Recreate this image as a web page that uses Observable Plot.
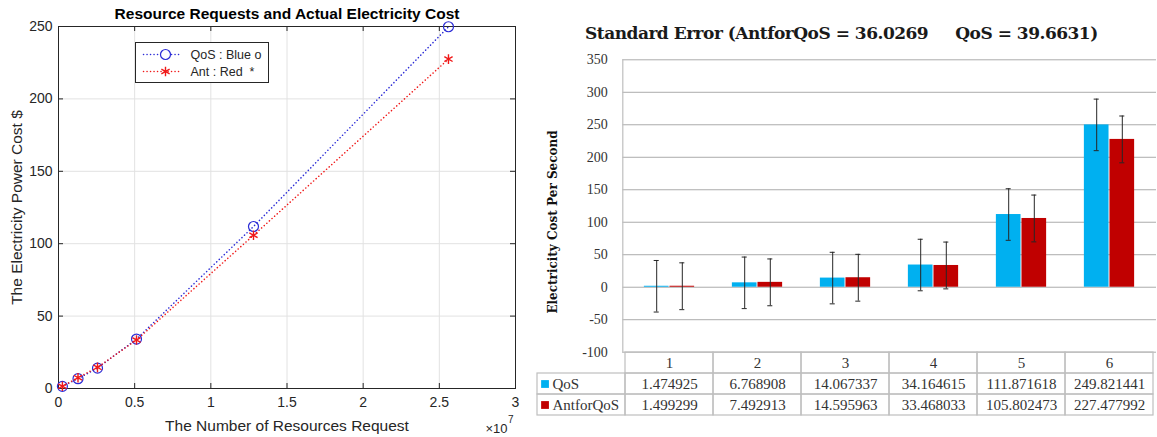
<!DOCTYPE html>
<html><head><meta charset="utf-8">
<script src="https://cdn.jsdelivr.net/npm/d3@7"></script>
<script src="https://cdn.jsdelivr.net/npm/@observablehq/plot@0.6"></script>
<style>
body{margin:0;background:#fff;width:1157px;height:437px;overflow:hidden;position:relative}
.abs{position:absolute}
#title2{left:585px;top:25px;font:bold 17px "DejaVu Serif";letter-spacing:-0.5px;white-space:pre;color:#1a1a1a;line-height:17px}
</style></head><body>
<div id="left" class="abs" style="left:0;top:0"></div>
<div id="title2" class="abs">Standard Error (AntforQoS = 36.0269     QoS = 39.6631)</div>
<div id="chart" class="abs" style="left:530px;top:0"></div>
<div id="table" class="abs" style="left:530px;top:340px"></div>
<script>
// ---- data ----
const categories = [1, 2, 3, 4, 5, 6];
const resources = [256000, 1280000, 2560000, 5120000, 12800000, 25600000];
const qos = [1.474925, 6.768908, 14.067337, 34.164615, 111.871618, 249.821441];
const ant = [1.499299, 7.492913, 14.595963, 33.468033, 105.802473, 227.477992];
const seQoS = 39.6631;
const seAnt = 36.0269;
const seriesNames = ["QoS", "AntforQoS"];
const legendLabels = ["QoS : Blue o", "Ant : Red  *"];
const xTicksLeft = [0, 5e6, 1e7, 1.5e7, 2e7, 2.5e7, 3e7];
const yTicksLeft = [0, 50, 100, 150, 200, 250];
const yTicksRight = [-100, -50, 0, 50, 100, 150, 200, 250, 300, 350];

// ---- left MATLAB-style plot ----
const BLUE_L = "#2b2bd6", RED_L = "#f01818", AX = "#262626";
const fw = 520 - 58 - 5, fh = 437 - 26 - 49;
const leftData = resources.map((x, i) => ({x, qos: qos[i], ant: ant[i]}));
const dash = "0.1,3.4";
const dotLine = {strokeWidth: 1.5, strokeDasharray: dash, strokeLinecap: "round"};
const left = Plot.plot({
  width: 520, height: 437, marginLeft: 58, marginRight: 5, marginTop: 26, marginBottom: 49,
  style: {fontFamily: "'Liberation Sans', Arial, sans-serif", fontSize: "14px", color: AX, background: "transparent"},
  x: {domain: [0, 3e7], axis: null},
  y: {domain: [0, 250], axis: null},
  marks: [
    Plot.gridX(xTicksLeft, {stroke: "#e2e2e2", strokeOpacity: 1}),
    Plot.gridY(yTicksLeft, {stroke: "#e2e2e2", strokeOpacity: 1}),
    Plot.tickX(xTicksLeft, {x: d => d, insetTop: fh - 5, stroke: AX}),
    Plot.tickX(xTicksLeft, {x: d => d, insetBottom: fh - 5, stroke: AX}),
    Plot.tickY(yTicksLeft, {y: d => d, insetRight: fw - 5, stroke: AX}),
    Plot.tickY(yTicksLeft, {y: d => d, insetLeft: fw - 5, stroke: AX}),
    Plot.frame({stroke: AX}),
    Plot.axisX(xTicksLeft, {tickSize: 0, tickPadding: 9, label: null, tickFormat: d => String(d / 1e7), fill: AX}),
    Plot.axisY(yTicksLeft, {tickSize: 0, tickPadding: 6, label: null, tickFormat: d => String(d), fill: AX}),
    Plot.line(leftData, {x: "x", y: "qos", stroke: BLUE_L, ...dotLine}),
    Plot.line(leftData, {x: "x", y: "ant", stroke: RED_L, ...dotLine}),
    Plot.dot(leftData, {x: "x", y: "qos", r: 5, stroke: BLUE_L, strokeWidth: 1.2}),
    Plot.dot(leftData, {x: "x", y: "ant", r: 4.5, symbol: "asterisk", stroke: RED_L, strokeWidth: 1.4}),
    // legend
    Plot.frame({insetLeft: 77, insetTop: 16, insetRight: 247, insetBottom: 306, fill: "white", stroke: AX}),
    Plot.frame({anchor: "top", insetLeft: 85, insetRight: 335, insetTop: 28, stroke: BLUE_L, ...dotLine}),
    Plot.frame({anchor: "top", insetLeft: 85, insetRight: 335, insetTop: 45, stroke: RED_L, ...dotLine}),
    Plot.dot([0], {frameAnchor: "top-left", dx: 107, dy: 28, r: 5, fill: "white", stroke: BLUE_L, strokeWidth: 1.2}),
    Plot.dot([0], {frameAnchor: "top-left", dx: 107, dy: 45, r: 4.5, symbol: "asterisk", fill: "white", stroke: RED_L, strokeWidth: 1.4}),
    Plot.text([legendLabels[0]], {frameAnchor: "top-left", textAnchor: "start", lineAnchor: "middle", dx: 132, dy: 28, fontSize: 12.5, fill: AX}),
    Plot.text([legendLabels[1]], {frameAnchor: "top-left", textAnchor: "start", lineAnchor: "middle", dx: 132, dy: 45, fontSize: 12.5, fill: AX}),
    // labels
    Plot.text(["Resource Requests and Actual Electricity Cost"], {frameAnchor: "top", lineAnchor: "middle", dy: -12.5, fontWeight: "bold", fontSize: 15.5, fill: "#000"}),
    Plot.text(["The Number of Resources Request"], {frameAnchor: "bottom", lineAnchor: "middle", dy: 38, fontSize: 15.5, fill: AX}),
    Plot.text(["The Electricity Power Cost $"], {frameAnchor: "left", textAnchor: "middle", lineAnchor: "middle", dx: -41, rotate: -90, fontSize: 15.5, fill: AX}),
    Plot.text(["×10"], {frameAnchor: "bottom-right", textAnchor: "end", lineAnchor: "middle", dx: -8, dy: 40, fontSize: 13, fill: AX}),
    Plot.text(["7"], {frameAnchor: "bottom-right", textAnchor: "start", lineAnchor: "middle", dx: -7.5, dy: 31, fontSize: 10, fill: AX})
  ]
});
document.getElementById("left").append(left);

// ---- right Excel-style bar chart ----
const BLUE = "#00b0f0", RED = "#c00000", GRID = "#ababab", BORDER = "#bfbfbf";
const chartData = categories.map((c, i) => ({c, qos: qos[i], ant: ant[i]}));
const W = (627 - 92.3 - 1) / 6;   // column band width
const BW = 25.6;                    // bar width
const capIn = W / 2 - 3;
const chart = Plot.plot({
  width: 627, height: 370, marginLeft: 92.3, marginRight: 1, marginTop: 59.3, marginBottom: 18.3,
  style: {fontFamily: "'Liberation Serif', serif", fontSize: "14px", color: "#333", background: "transparent"},
  x: {type: "band", domain: categories, padding: 0, axis: null},
  y: {domain: [-100, 350], axis: null},
  marks: [
    Plot.gridY(yTicksRight, {stroke: GRID, strokeOpacity: 1}),
    Plot.axisY(yTicksRight, {tickSize: 0, tickPadding: 15, label: null, tickFormat: d => String(d), fill: "#333"}),
    Plot.barY(chartData, {x: "c", y: "qos", fill: BLUE, insetLeft: W / 2 - BW, insetRight: W / 2}),
    Plot.barY(chartData, {x: "c", y: "ant", fill: RED, insetLeft: W / 2, insetRight: W / 2 - BW}),
    Plot.ruleX(chartData, {x: "c", y1: d => d.qos - seQoS, y2: d => d.qos + seQoS, dx: -BW / 2, stroke: "#262626"}),
    Plot.ruleX(chartData, {x: "c", y1: d => d.ant - seAnt, y2: d => d.ant + seAnt, dx: BW / 2, stroke: "#262626"}),
    Plot.tickY(chartData, {x: "c", y: d => d.qos + seQoS, dx: -BW / 2, insetLeft: capIn, insetRight: capIn, stroke: "#262626"}),
    Plot.tickY(chartData, {x: "c", y: d => d.qos - seQoS, dx: -BW / 2, insetLeft: capIn, insetRight: capIn, stroke: "#262626"}),
    Plot.tickY(chartData, {x: "c", y: d => d.ant + seAnt, dx: BW / 2, insetLeft: capIn, insetRight: capIn, stroke: "#262626"}),
    Plot.tickY(chartData, {x: "c", y: d => d.ant - seAnt, dx: BW / 2, insetLeft: capIn, insetRight: capIn, stroke: "#262626"}),
    Plot.frame({anchor: "left", stroke: BORDER, strokeWidth: 1.2}),
    Plot.text(["Electricity Cost Per Second"], {frameAnchor: "left", textAnchor: "middle", lineAnchor: "middle", rotate: -90, dx: -69.3, dy: 16, fontWeight: "bold", fontFamily: "'DejaVu Serif', serif", fontSize: 12, fill: "#111"})
  ]
});
document.getElementById("chart").append(chart);

// ---- data table under the chart ----
const cols = ["label", ...categories];
const rows = ["head", ...seriesNames];
const fmt = d3.format(".6f");
const headCells = categories.map(c => ({col: c, row: "head", text: String(c)}));
const valueCells = [];
categories.forEach((c, i) => {
  valueCells.push({col: c, row: "QoS", text: fmt(qos[i])});
  valueCells.push({col: c, row: "AntforQoS", text: fmt(ant[i])});
});
const labelCells = [{col: "label", row: "QoS", text: "QoS", color: BLUE}, {col: "label", row: "AntforQoS", text: "AntforQoS", color: RED}];
const TW = (627 - 3.3 - 1) / 7;
const table = Plot.plot({
  width: 627, height: 80, marginLeft: 3.3, marginRight: 1, marginTop: 11.7, marginBottom: 5.3,
  style: {fontFamily: "'Liberation Serif', serif", fontSize: "15px", color: "#333", background: "transparent"},
  x: {type: "band", domain: cols, padding: 0, axis: null},
  y: {type: "band", domain: rows, padding: 0, axis: null},
  marks: [
    Plot.cell([...headCells, ...valueCells, ...labelCells], {x: "col", y: "row", fill: "none", stroke: BORDER, strokeWidth: 1.2}),
    Plot.text([...headCells, ...valueCells], {x: "col", y: "row", text: "text", fill: "#333"}),
    Plot.dot(labelCells, {x: "col", y: "row", symbol: "square", r: 4.4, fill: "color", dx: -(TW / 2 - 8)}),
    Plot.text(labelCells, {x: "col", y: "row", text: "text", textAnchor: "start", dx: -(TW / 2 - 15.5), fill: "#333"})
  ]
});
document.getElementById("table").append(table);
</script>
</body></html>
